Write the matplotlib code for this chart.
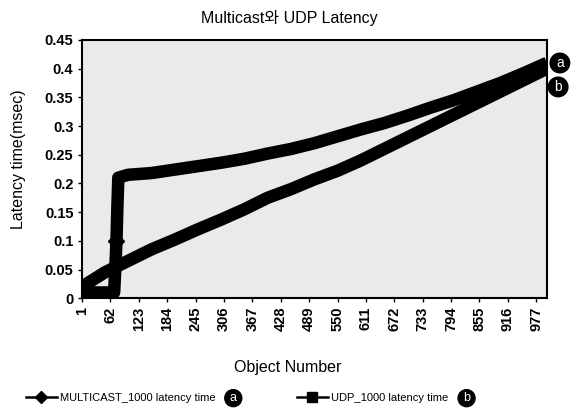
import matplotlib
matplotlib.use("Agg")
import matplotlib.pyplot as plt
from matplotlib.lines import Line2D

plt.rcParams['font.family'] = ['Liberation Sans', 'Noto Sans CJK KR', 'DejaVu Sans']

multicast_obj = [1, 25, 50, 70, 73, 75, 77, 79, 100, 150, 200, 250, 300, 350, 400,
                 450, 500, 550, 600, 650, 700, 750, 800, 850, 900, 950, 1000]
multicast_lat = [0.01, 0.01, 0.01, 0.01, 0.06, 0.10, 0.16, 0.21, 0.215, 0.218, 0.224,
                 0.23, 0.236, 0.243, 0.252, 0.26, 0.27, 0.282, 0.294, 0.305, 0.318,
                 0.332, 0.345, 0.36, 0.375, 0.392, 0.41]

udp_obj = [1, 50, 100, 150, 200, 250, 300, 350, 400, 450, 500, 550, 600, 650, 700,
           750, 800, 850, 900, 950, 1000]
udp_lat = [0.02, 0.045, 0.065, 0.085, 0.102, 0.12, 0.137, 0.155, 0.175, 0.19, 0.207,
           0.222, 0.24, 0.26, 0.28, 0.30, 0.32, 0.34, 0.36, 0.38, 0.40]

xtick_vals = list(range(1, 1001, 61))
ytick_vals = [0, 0.05, 0.1, 0.15, 0.2, 0.25, 0.3, 0.35, 0.4, 0.45]
ytick_labels = ['0', '0.05', '0.1', '0.15', '0.2', '0.25', '0.3', '0.35', '0.4', '0.45']

fig = plt.figure(figsize=(5.76, 4.2), dpi=100)
ax = fig.add_axes([0.142, 0.29, 0.808, 0.615])
ax.set_facecolor('#eaeaea')

ax.plot(udp_obj, udp_lat, color='black', lw=9, solid_capstyle='butt',
        solid_joinstyle='round')
ax.plot(multicast_obj, multicast_lat, color='black', lw=9, solid_capstyle='butt',
        solid_joinstyle='round')
# diamond visible on the vertical jump of the multicast series
ax.plot(multicast_obj[5], multicast_lat[5], marker='D', ms=8, color='black')

ax.set_xlim(0.5, 1000.5)
ax.set_ylim(0, 0.45)
ax.set_xticks(xtick_vals)
ax.set_xticklabels([str(v) for v in xtick_vals], rotation=90, fontsize=10.5, fontweight='bold')
ax.set_yticks(ytick_vals)
ax.set_yticklabels(ytick_labels, fontsize=10.5, fontweight='bold')
ax.tick_params(axis='both', direction='out', length=3, width=1, pad=3)
for s in ax.spines.values():
    s.set_linewidth(1.5)
    s.set_color('black')

fig.text(0.503, 0.958, 'Multicast와 UDP Latency', fontsize=11.5, ha='center', va='center')
ax.set_ylabel('Latency time(msec)', fontsize=11.5)
ax.yaxis.set_label_coords(-0.12, 0.54)
fig.text(0.5, 0.125, 'Object Number', fontsize=11.5, ha='center', va='center')

h_mc = Line2D([], [], color='black', lw=1.8, marker='D', ms=6)
h_udp = Line2D([], [], color='black', lw=1.8, marker='s', ms=7)
leg1 = fig.legend([h_mc], ['MULTICAST_1000 latency time'], loc='center left',
                  bbox_to_anchor=(0.045, 0.052), frameon=False, fontsize=8,
                  handlelength=2.8, handletextpad=0.25, borderpad=0, borderaxespad=0)
leg2 = fig.legend([h_udp], ['UDP_1000 latency time'], loc='center left',
                  bbox_to_anchor=(0.515, 0.052), frameon=False, fontsize=8,
                  handlelength=2.8, handletextpad=0.25, borderpad=0, borderaxespad=0)

circ = dict(boxstyle='circle,pad=0.2', fc='black', ec='black')
fig.text(0.405, 0.052, 'a', color='white', fontsize=9, ha='center', va='center', bbox=circ)
fig.text(0.81, 0.052, 'b', color='white', fontsize=9, ha='center', va='center', bbox=circ)
fig.text(0.972, 0.85, 'a', color='white', fontsize=10, ha='center', va='center', bbox=circ)
fig.text(0.969, 0.793, 'b', color='white', fontsize=10, ha='center', va='center', bbox=circ)

fig.savefig('out.png', dpi=100)
